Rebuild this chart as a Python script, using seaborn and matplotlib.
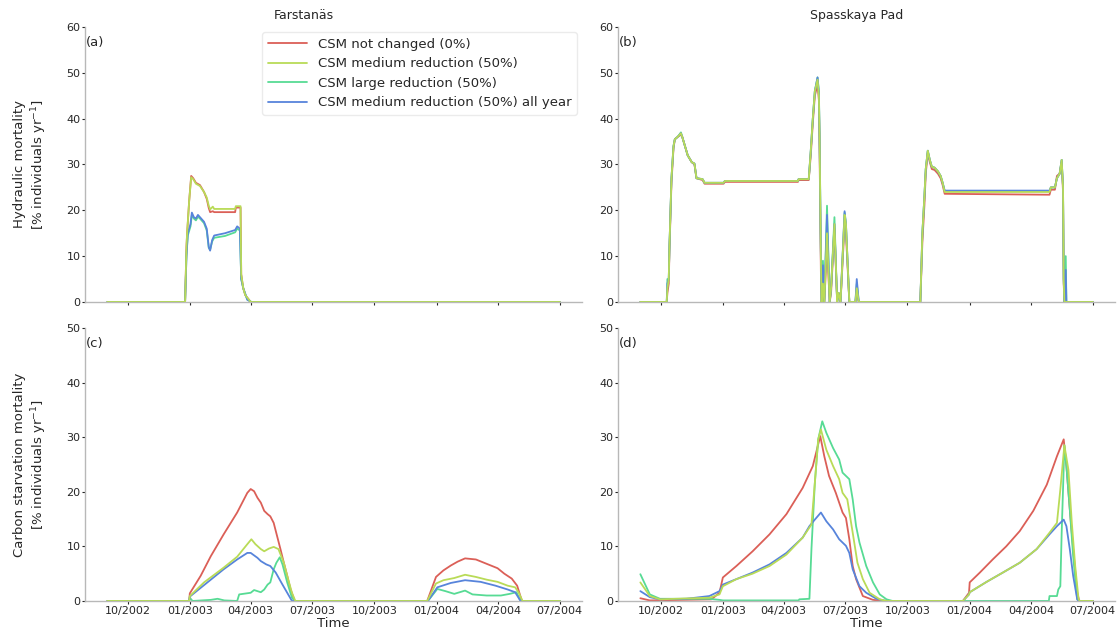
import pandas as pd
import numpy as np
import matplotlib
matplotlib.use('Agg')
import matplotlib.pyplot as plt
import matplotlib.dates as mdates
from matplotlib.lines import Line2D
import seaborn as sns

# cenarios de CSM (ordem da legenda)
CENARIOS = ['CSM not changed (0%)', 'CSM medium reduction (50%)',
            'CSM large reduction (50%)', 'CSM medium reduction (50%) all year']

# --- (a) Farstanas, mortalidade hidraulica ---
a_rg_dates = ['2002-09-01', '2002-12-25', '2002-12-27', '2002-12-28', '2002-12-31', '2003-01-03',
              '2003-01-06', '2003-01-10', '2003-01-16', '2003-01-22', '2003-01-26', '2003-01-29',
              '2003-01-31', '2003-02-04', '2003-02-06', '2003-03-09', '2003-03-10', '2003-03-17',
              '2003-03-18', '2003-03-21', '2003-03-24', '2003-04-01', '2004-07-01']
a_red = [0, 0, 12, 15, 22, 27.5, 27, 26, 25.5, 24, 22.5, 20.5, 19.6, 19.8, 19.6, 19.6, 20.6, 20.6,
         6, 3, 1.5, 0, 0]
a_yellow = [0, 0, 12, 15, 22, 27.2, 26.8, 25.8, 25.3, 24, 22.8, 21, 20.2, 20.8, 20.3, 20.3, 20.9, 20.9,
            6, 3, 1.5, 0, 0]
a_gb_dates = ['2002-09-01', '2002-12-25', '2002-12-27', '2002-12-29', '2003-01-02', '2003-01-04',
              '2003-01-07', '2003-01-10', '2003-01-13', '2003-01-16', '2003-01-22', '2003-01-26',
              '2003-01-29', '2003-01-31', '2003-02-03', '2003-02-06', '2003-02-22', '2003-03-09',
              '2003-03-12', '2003-03-16', '2003-03-18', '2003-03-21', '2003-03-27', '2003-04-02',
              '2004-07-01']
a_green = [0, 0, 10, 14.5, 16.5, 19, 18.2, 17.8, 18.6, 18.2, 17.2, 15.6, 11.8, 11.4, 13.2, 14, 14.4,
           15.2, 16, 15.6, 5, 3, 0.5, 0, 0]
a_blue = [0, 0, 10, 15, 17, 19.5, 18.5, 18.2, 19, 18.5, 17.5, 16, 12, 11.2, 13.5, 14.5, 15, 15.7,
          16.5, 16, 5, 3, 0.5, 0, 0]

# --- (b) Spasskaya Pad, mortalidade hidraulica ---
b_dates = ['2002-09-01', '2002-10-10', '2002-10-11', '2002-10-13', '2002-10-14', '2002-10-17',
           '2002-10-20', '2002-10-22', '2002-10-26', '2002-10-31', '2002-11-02', '2002-11-04',
           '2002-11-07', '2002-11-10', '2002-11-16', '2002-11-20', '2002-11-23', '2002-12-02',
           '2002-12-05', '2003-01-02', '2003-01-04', '2003-04-22', '2003-04-23', '2003-05-08',
           '2003-05-11', '2003-05-14', '2003-05-17', '2003-05-21', '2003-05-23', '2003-05-24',
           '2003-05-26', '2003-05-27', '2003-05-29', '2003-05-31', '2003-06-04', '2003-06-08',
           '2003-06-10', '2003-06-15', '2003-06-19', '2003-06-21', '2003-06-24', '2003-06-30',
           '2003-07-02', '2003-07-07', '2003-07-16', '2003-07-18', '2003-07-21', '2003-10-20',
           '2003-10-23', '2003-10-26', '2003-10-28', '2003-10-31', '2003-11-03', '2003-11-06',
           '2003-11-10', '2003-11-15', '2003-11-19', '2003-11-22', '2003-11-25', '2004-04-28',
           '2004-04-30', '2004-05-06', '2004-05-09', '2004-05-13', '2004-05-16', '2004-05-18',
           '2004-05-19', '2004-05-20', '2004-05-22', '2004-05-23', '2004-07-01']
b_red = [0, 0, 2, 4, 11, 26, 33.5, 35.5, 36, 36.5, 36, 35, 33.5, 32, 30.5, 30, 27, 26.6, 25.8, 25.8,
         26.2, 26.2, 26.6, 26.6, 32, 39, 45, 47.5, 44, 33, 6, 0, 3, 0, 12, 0, 2, 16, 0, 2,
         0, 17, 15, 0, 0, 2, 0, 0, 13, 21, 28, 32.5, 30.5, 29, 28.8, 28, 27, 25.5, 23.6, 23.4,
         24.5, 24.5, 27.5, 28, 30.5, 24, 4, 0, 0, 0, 0]
b_yellow = [0, 0, 3, 5, 12, 27, 34, 35.5, 36, 36.8, 36, 35, 33.5, 32, 30.5, 30.2, 27, 26.8, 26, 26,
            26.4, 26.4, 26.8, 26.8, 33, 40, 46, 48.5, 45, 36, 9, 0, 4, 0, 15, 0, 3, 17, 0, 2,
            0, 19, 17, 0, 0, 3, 0, 0, 15, 23, 29, 33, 31, 29.5, 29.3, 28.5, 27.5, 26, 24, 24,
            25, 25, 27, 28, 31, 25, 5, 0, 0, 0, 0]
b_green = [0, 0, 5, 5, 12, 27, 34, 35.5, 36, 37, 36, 35, 33.5, 32, 30.5, 30.2, 27, 26.8, 26, 26,
           26.4, 26.4, 26.8, 26.8, 33, 40, 46, 49, 46, 37, 10, 0, 9, 0, 21, 0, 3, 18.5, 0, 2,
           0, 19.5, 17, 0, 0, 4, 0, 0, 15, 23, 29, 33, 31, 29.5, 29.3, 28.5, 27.5, 26, 24.2, 24.2,
           25, 25, 27, 28, 31, 25, 5, 0, 10, 0, 0]
b_blue = [0, 0, 4, 5, 12, 27, 34, 35.5, 36, 36.8, 36, 35, 33.5, 32, 30.5, 30.2, 27, 26.8, 26, 26,
          26.4, 26.4, 26.8, 26.8, 33, 40, 46, 49, 45.5, 36, 9, 0, 8, 0, 19, 0, 3, 17, 0, 2,
          0, 19.8, 17, 0, 0, 5, 0, 0, 15, 23, 29, 33, 31, 29.5, 29.3, 28.5, 27.5, 26, 24.3, 24.3,
          25, 25, 27, 28, 31, 25, 5, 0, 7, 0, 0]

# --- (c) Farstanas, mortalidade por falta de carbono ---
c_red_dates = ['2002-09-01', '2002-12-31', '2003-01-01', '2003-01-17', '2003-02-01', '2003-02-20',
               '2003-03-12', '2003-03-27', '2003-04-01', '2003-04-06', '2003-04-11', '2003-04-16',
               '2003-04-21', '2003-04-26', '2003-04-30', '2003-05-05', '2003-05-10', '2003-05-15',
               '2003-05-20', '2003-05-25', '2003-05-30', '2003-06-05', '2003-12-18', '2003-12-31',
               '2004-01-11', '2004-01-22', '2004-02-01', '2004-02-12', '2004-02-28', '2004-03-15',
               '2004-03-31', '2004-04-10', '2004-04-21', '2004-04-29', '2004-05-06', '2004-07-01']
c_red = [0, 0, 1.4, 4.6, 8.2, 12.2, 16.2, 19.8, 20.5, 20.1, 18.9, 18, 16.5, 15.9, 15.5, 14.3, 11.9,
         9.5, 7, 4.6, 2.1, 0, 0, 4.4, 5.6, 6.5, 7.2, 7.8, 7.6, 6.8, 6, 5, 4.1, 2.8, 0, 0]
c_yellow_dates = ['2002-09-01', '2002-12-31', '2003-01-01', '2003-01-22', '2003-02-20', '2003-03-12',
                  '2003-03-27', '2003-04-02', '2003-04-08', '2003-04-16', '2003-04-21', '2003-04-28',
                  '2003-05-05', '2003-05-12', '2003-05-20', '2003-05-27', '2003-06-01', '2003-06-06',
                  '2003-12-18', '2003-12-31', '2004-01-11', '2004-01-27', '2004-02-12', '2004-02-28',
                  '2004-03-15', '2004-03-31', '2004-04-15', '2004-04-26', '2004-05-01', '2004-05-07',
                  '2004-07-01']
c_yellow = [0, 0, 0.9, 3.4, 6.1, 8.1, 10.4, 11.3, 10.4, 9.5, 9.1, 9.6, 9.9, 9.5, 7, 3.7, 1.5, 0,
            0, 3.2, 3.8, 4.2, 4.8, 4.4, 3.9, 3.5, 2.8, 2.5, 1.6, 0, 0]
c_green_dates = ['2002-09-01', '2002-12-31', '2003-01-01', '2003-01-05', '2003-02-01', '2003-02-11',
                 '2003-02-21', '2003-03-12', '2003-03-15', '2003-04-01', '2003-04-06', '2003-04-16',
                 '2003-04-21', '2003-04-26', '2003-04-30', '2003-05-05', '2003-05-09', '2003-05-14',
                 '2003-05-18', '2003-05-25', '2003-06-01', '2003-06-05', '2003-12-19', '2004-01-02',
                 '2004-01-14', '2004-01-27', '2004-02-12', '2004-02-23', '2004-03-15', '2004-04-05',
                 '2004-04-18', '2004-04-28', '2004-05-04', '2004-07-01']
c_green = [0, 0, 0.6, 0, 0.2, 0.4, 0.1, 0, 1.2, 1.5, 2.0, 1.6, 2.1, 3.0, 3.4, 5.8, 7.0, 8.0, 6.7,
           3.4, 0.6, 0, 0, 2.2, 1.8, 1.3, 1.9, 1.2, 1.0, 1.0, 1.3, 1.6, 0, 0]
c_blue_dates = ['2002-09-01', '2002-12-31', '2003-01-01', '2003-01-27', '2003-02-20', '2003-03-12',
                '2003-03-27', '2003-04-01', '2003-04-11', '2003-04-16', '2003-04-24', '2003-04-30',
                '2003-05-08', '2003-05-18', '2003-05-25', '2003-06-01', '2003-12-19', '2004-01-02',
                '2004-01-22', '2004-02-12', '2004-03-06', '2004-03-28', '2004-04-15', '2004-04-26',
                '2004-05-04', '2004-07-01']
c_blue = [0, 0, 0.8, 3.4, 5.8, 7.6, 8.8, 8.8, 7.9, 7.3, 6.7, 6.4, 5.2, 3.0, 1.5, 0, 0, 2.5, 3.3,
          3.8, 3.5, 2.8, 2.1, 1.6, 0, 0]

# --- (d) Spasskaya Pad, mortalidade por falta de carbono ---
d_red_dates = ['2002-09-01', '2002-09-15', '2002-12-15', '2002-12-27', '2003-01-01', '2003-01-21',
               '2003-02-14', '2003-03-11', '2003-04-05', '2003-04-29', '2003-05-14', '2003-05-25',
               '2003-05-31', '2003-06-07', '2003-06-17', '2003-06-27', '2003-07-02', '2003-07-07',
               '2003-07-12', '2003-07-17', '2003-07-27', '2003-08-11', '2003-08-26', '2003-12-22',
               '2003-12-31', '2004-01-01', '2004-01-16', '2004-02-04', '2004-02-24', '2004-03-15',
               '2004-04-04', '2004-04-24', '2004-05-09', '2004-05-19', '2004-05-23', '2004-05-28',
               '2004-06-02', '2004-06-08', '2004-06-11', '2004-07-01']
d_red = [0.5, 0.1, 0.3, 1.5, 4.3, 6.4, 9.1, 12.2, 15.9, 20.7, 24.7, 30.2, 26.5, 22.9, 19.8, 16.2,
         15.2, 11.3, 6.4, 4, 0.9, 0.2, 0, 0, 1.5, 3.4, 5.2, 7.6, 10, 12.8, 16.5, 21.3, 26.5, 29.6,
         24.7, 16.8, 9.5, 1.5, 0, 0]
d_yellow_dates = ['2002-09-01', '2002-09-15', '2002-09-30', '2002-12-12', '2002-12-27', '2003-01-01',
                  '2003-01-21', '2003-02-14', '2003-03-11', '2003-04-05', '2003-04-29', '2003-05-12',
                  '2003-05-17', '2003-05-22', '2003-05-26', '2003-06-03', '2003-06-13', '2003-06-22',
                  '2003-06-27', '2003-07-04', '2003-07-12', '2003-07-19', '2003-07-27', '2003-08-06',
                  '2003-08-21', '2003-08-31', '2003-12-22', '2003-12-31', '2004-01-01', '2004-01-26',
                  '2004-02-19', '2004-03-15', '2004-04-09', '2004-04-28', '2004-05-09', '2004-05-14',
                  '2004-05-20', '2004-05-26', '2004-05-31', '2004-06-05', '2004-06-10', '2004-06-12',
                  '2004-07-01']
d_yellow = [3.4, 0.9, 0.3, 0.6, 1.2, 2.7, 4.0, 5.0, 6.4, 8.5, 11.6, 14.0, 21.6, 29.6, 31.4, 27.7,
            24.7, 22.3, 19.8, 18.6, 12.5, 7.0, 4.0, 1.5, 0.3, 0, 0, 1.2, 1.6, 3.5, 5.2, 7.0, 9.5,
            12.5, 14.3, 20.4, 28.5, 24.0, 14.3, 6.4, 0.3, 0, 0]
d_green_dates = ['2002-09-01', '2002-09-15', '2002-09-30', '2002-12-12', '2002-12-27', '2003-01-01',
                 '2003-04-23', '2003-04-24', '2003-05-09', '2003-05-12', '2003-05-17', '2003-05-22',
                 '2003-05-28', '2003-06-03', '2003-06-13', '2003-06-22', '2003-06-27', '2003-07-07',
                 '2003-07-12', '2003-07-17', '2003-07-22', '2003-08-01', '2003-08-11', '2003-08-21',
                 '2003-08-31', '2003-09-09', '2004-04-27', '2004-04-28', '2004-05-09', '2004-05-11',
                 '2004-05-14', '2004-05-16', '2004-05-20', '2004-05-23', '2004-05-28', '2004-06-02',
                 '2004-06-08', '2004-06-10', '2004-07-01']
d_green = [4.9, 1.2, 0.4, 0.4, 0.2, 0.1, 0.1, 0.3, 0.4, 9.5, 21.6, 29.6, 32.9, 30.8, 28.0, 25.9,
           23.5, 22.3, 18.6, 13.7, 10.7, 6.4, 3.4, 1.2, 0.3, 0, 0, 0.9, 0.9, 2.1, 2.7, 12.5, 28.5,
           24.7, 16.8, 8.2, 0.3, 0, 0]
d_blue_dates = ['2002-09-01', '2002-09-15', '2002-09-30', '2002-11-08', '2002-12-12', '2002-12-27',
                '2003-01-01', '2003-01-21', '2003-02-14', '2003-03-11', '2003-04-05', '2003-04-29',
                '2003-05-09', '2003-05-17', '2003-05-26', '2003-06-03', '2003-06-13', '2003-06-22',
                '2003-07-02', '2003-07-07', '2003-07-12', '2003-07-22', '2003-08-01', '2003-08-16',
                '2003-08-31', '2003-12-22', '2003-12-31', '2004-01-01', '2004-01-26', '2004-02-19',
                '2004-03-15', '2004-04-09', '2004-04-28', '2004-05-09', '2004-05-19', '2004-05-23',
                '2004-05-28', '2004-06-02', '2004-06-08', '2004-06-10', '2004-07-01']
d_blue = [1.8, 0.7, 0.3, 0.4, 0.9, 1.8, 3.0, 4.0, 5.2, 6.7, 8.8, 11.6, 13.7, 14.9, 16.2, 14.6,
          13.1, 11.3, 10.1, 8.8, 5.8, 2.7, 1.5, 0.4, 0, 0, 1.2, 1.6, 3.5, 5.2, 7.0, 9.5, 12.2,
          13.7, 14.9, 13.7, 9.5, 4.6, 0.3, 0, 0]

TICK_LABELS_FMT = '%m/%Y'


def montar_df(series):
    """Junta as series (datas, valores, cenario) num DataFrame longo."""
    partes = []
    for datas, valores, cenario in series:
        partes.append(pd.DataFrame({'Data': pd.to_datetime(datas),
                                    'Mortalidade': valores,
                                    'Cenario': cenario}))
    return pd.concat(partes, ignore_index=True)


df_a = montar_df([(a_rg_dates, a_red, CENARIOS[0]), (a_rg_dates, a_yellow, CENARIOS[1]),
                  (a_gb_dates, a_green, CENARIOS[2]), (a_gb_dates, a_blue, CENARIOS[3])])
df_b = montar_df([(b_dates, b_red, CENARIOS[0]), (b_dates, b_yellow, CENARIOS[1]),
                  (b_dates, b_green, CENARIOS[2]), (b_dates, b_blue, CENARIOS[3])])
df_c = montar_df([(c_red_dates, c_red, CENARIOS[0]), (c_yellow_dates, c_yellow, CENARIOS[1]),
                  (c_green_dates, c_green, CENARIOS[2]), (c_blue_dates, c_blue, CENARIOS[3])])
df_d = montar_df([(d_red_dates, d_red, CENARIOS[0]), (d_yellow_dates, d_yellow, CENARIOS[1]),
                  (d_green_dates, d_green, CENARIOS[2]), (d_blue_dates, d_blue, CENARIOS[3])])

sns.set_style('white')
CORES = sns.color_palette('hls', 5)[:4]
plt.rcParams.update({
    'axes.edgecolor': '0.72',
    'axes.linewidth': 1.0,
    'xtick.bottom': True, 'ytick.left': True,
    'xtick.major.size': 2.2, 'ytick.major.size': 2.2,
    'xtick.major.width': 0.8, 'ytick.major.width': 0.8,
    'xtick.major.pad': 1.2, 'ytick.major.pad': 1.0,
    'xtick.color': '0.15', 'ytick.color': '0.15',
    'xtick.labelsize': 8, 'ytick.labelsize': 8,
})

fig = plt.figure(figsize=(11.17, 6.32), dpi=100)
pos = {'a': [0.0761, 0.5222, 0.445, 0.4351], 'b': [0.5533, 0.5222, 0.445, 0.4351],
       'c': [0.0761, 0.0491, 0.445, 0.4320], 'd': [0.5533, 0.0491, 0.445, 0.4320]}
# (letra, df, ymax, titulo, posicao x do titulo, rotulo y)
paineis = [('a', df_a, 60, 'Farstanäs', 0.44, 'Hydraulic mortality\n[% individuals yr$^{-1}$]'),
           ('b', df_b, 60, 'Spasskaya Pad', 0.48, None),
           ('c', df_c, 50, None, None, 'Carbon starvation mortality\n[% individuals yr$^{-1}$]'),
           ('d', df_d, 50, None, None, None)]

for letra, df, ymax, titulo, xtit, ylabel in paineis:
    ax = fig.add_axes(pos[letra])
    sns.lineplot(data=df, x='Data', y='Mortalidade', hue='Cenario', hue_order=CENARIOS,
                 palette=CORES, ax=ax, errorbar=None, linewidth=1.3, legend=False)
    # linha amarela por cima das outras
    for ln in ax.lines:
        if np.allclose(ln.get_color()[:3], CORES[1]):
            ln.set_zorder(3)
    sns.despine(ax=ax)
    ax.set_ylim(0, ymax)
    ax.set_yticks(range(0, ymax + 1, 10))
    ax.set_xlim(pd.Timestamp('2002-07-30'), pd.Timestamp('2004-08-03'))
    ax.xaxis.set_major_locator(mdates.MonthLocator(bymonth=[1, 4, 7, 10]))
    ax.xaxis.set_major_formatter(mdates.DateFormatter(TICK_LABELS_FMT))
    ax.text(0.002, 0.968, f'({letra})', transform=ax.transAxes, ha='left', va='top',
            fontsize=9.5, color='0.15')
    if titulo:
        ax.set_title(titulo, fontsize=9, pad=5.5, x=xtit, color='0.15')
    if letra in ('a', 'b'):
        ax.set_xlabel('')
        ax.tick_params(axis='x', labelbottom=False)
    else:
        ax.set_xlabel('Time', fontsize=9.5, labelpad=1, color='0.15')
    if ylabel:
        ax.set_ylabel(ylabel, fontsize=9.5, color='0.15')
        ax.yaxis.set_label_coords(-0.073, 0.5)
    else:
        ax.set_ylabel('')
    if letra == 'a':
        handles = [Line2D([], [], color=c, linewidth=1.3) for c in CORES]
        leg = ax.legend(handles, CENARIOS, loc='upper right', fontsize=9.5, handlelength=3,
                        frameon=True, borderaxespad=0.4)
        leg.get_frame().set_edgecolor('0.9')

fig.savefig('out.png', dpi=100)
